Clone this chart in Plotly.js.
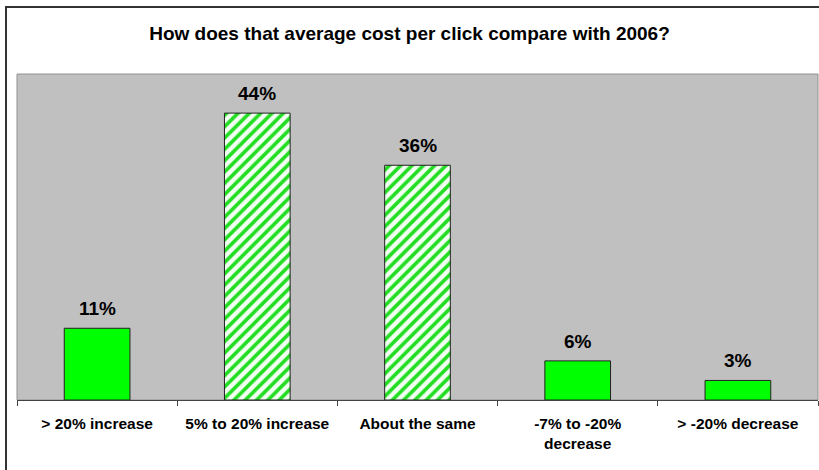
<!DOCTYPE html>
<html>
<head>
<meta charset="utf-8">
<script src="https://cdn.plot.ly/plotly-3.0.1.min.js"></script>
<style>
  html, body { margin: 0; padding: 0; background: #fff; }
  #wrap { position: relative; width: 819px; height: 470px; overflow: hidden; }
  #chart { position: absolute; left: 0; top: 0; width: 819px; height: 470px; }
  #frame { position: absolute; left: 5px; top: 6px; width: 830px; height: 480px;
           border: 2px solid #333; box-sizing: border-box; pointer-events: none; }
</style>
</head>
<body>
<div id="wrap">
  <div id="chart"></div>
  <div id="frame"></div>
</div>
<script>
const titleText = "How does that average cost per click compare with 2006?";
const categories = ["> 20% increase", "5% to 20% increase", "About the same", "-7% to -20%<br>decrease", "> -20% decrease"];
const values = [11, 44, 36, 6, 3];
const hatched = [false, true, true, false, false];

const green = "#00FF00";
const fontFam = "Liberation Sans, Arial, sans-serif";

const solidTrace = {
  type: "bar",
  x: categories,
  y: values.map((v, i) => hatched[i] ? null : v),
  width: 0.41,
  marker: { color: green, line: { color: "#222", width: 1 } },
  hoverinfo: "none"
};

const hatchTrace = {
  type: "bar",
  x: categories,
  y: values.map((v, i) => hatched[i] ? v : null),
  width: 0.41,
  marker: {
    color: "#F2FFF2",
    line: { color: "#222", width: 1 },
    pattern: {
      shape: "/",
      fgcolor: "#22DD22",
      bgcolor: "#F2FFF2",
      fgopacity: 1,
      size: 8,
      solidity: 0.45,
      fillmode: "replace"
    }
  },
  hoverinfo: "none"
};

const annotations = categories.map((c, i) => ({
  x: c, y: values[i], xref: "x", yref: "y",
  text: "<b>" + values[i] + "%</b>",
  showarrow: false, yanchor: "bottom", yshift: 7,
  font: { family: fontFam, size: 19, color: "#000" }
}));

const layout = {
  width: 819, height: 470,
  margin: { l: 17, r: 1, t: 74, b: 70 },
  paper_bgcolor: "#fff",
  plot_bgcolor: "#C0C0C0",
  showlegend: false,
  barmode: "overlay",
  title: {
    text: "<b>" + titleText + "</b>",
    x: 0.5, xanchor: "center", y: 1 - 33/470, yanchor: "middle",
    font: { family: fontFam, size: 19, color: "#000" }
  },
  xaxis: {
    type: "category",
    tickson: "boundaries",
    ticks: "outside", ticklen: 5, tickcolor: "#444", tickwidth: 1,
    showline: true, linecolor: "#444", linewidth: 1,
    showgrid: false,
    tickfont: { family: fontFam, size: 15.5, color: "#000" },
    tickprefix: "<b>", ticksuffix: "</b>",
    ticklabelstandoff: 9
  },
  yaxis: {
    range: [0, 50],
    showticklabels: false, showgrid: false, zeroline: false, ticks: "",
    showline: false
  },
  shapes: [{
    type: "rect", xref: "paper", yref: "paper", x0: 0, x1: 1, y0: 0, y1: 1,
    line: { color: "#909090", width: 1 }, layer: "below"
  }],
  annotations: annotations
};

Plotly.newPlot("chart", [solidTrace, hatchTrace], layout, { displayModeBar: false, staticPlot: true });
</script>
</body>
</html>
